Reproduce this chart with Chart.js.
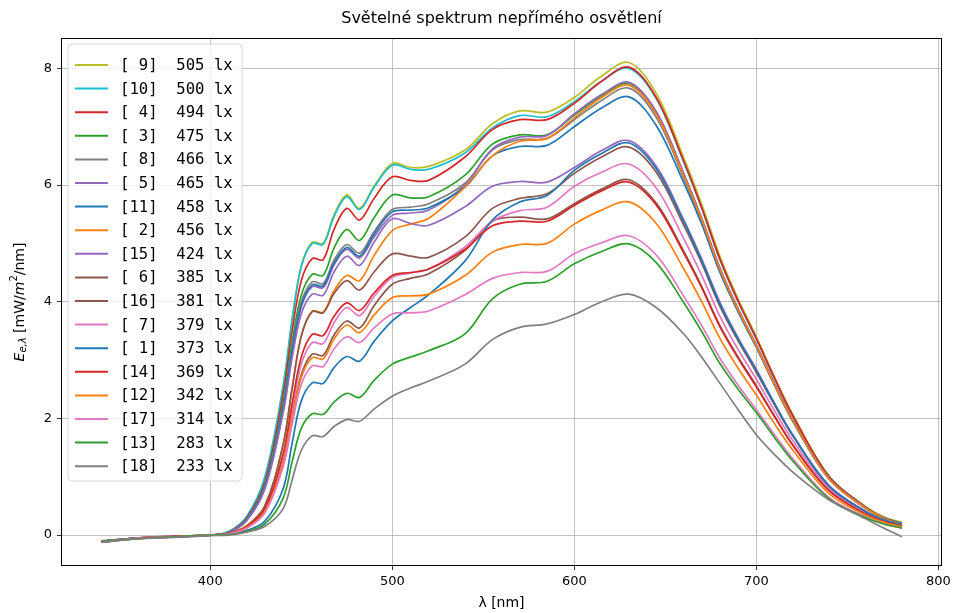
<!DOCTYPE html>
<html>
<head>
<meta charset="utf-8">
<style>
  html, body { margin: 0; padding: 0; background: #fff; }
</style>
</head>
<body>
<canvas id="spektrum" width="957" height="613"></canvas>
<script src="https://cdn.jsdelivr.net/npm/chart.js"></script>
<script>
    // vlnové délky [nm]
    var vlnoveDelky = [340, 360, 380, 400, 410, 420, 430, 440, 445, 450, 456, 462, 468, 475, 482, 490,
        500, 510, 520, 540, 555, 570, 585, 600, 615, 630, 645, 660, 670, 680, 690, 700, 710, 720, 740, 760, 770, 780];

    // popisky měření (pořadí legendy)
    var mereni = ['[ 9]  505 lx', '[10]  500 lx', '[ 4]  494 lx', '[ 3]  475 lx', '[ 8]  466 lx', '[ 5]  465 lx',
        '[11]  458 lx', '[ 2]  456 lx', '[15]  424 lx', '[ 6]  385 lx', '[16]  381 lx', '[ 7]  379 lx',
        '[ 1]  373 lx', '[14]  369 lx', '[12]  342 lx', '[17]  314 lx', '[13]  283 lx', '[18]  233 lx'];

    var barvy = ['#bcbd22', '#17becf', '#d62728', '#2ca02c', '#7f7f7f', '#9467bd', '#1f77b4', '#ff7f0e', '#9467bd',
        '#8c564b', '#8c564b', '#e377c2', '#1f77b4', '#d62728', '#ff7f0e', '#e377c2', '#2ca02c', '#7f7f7f'];

    // spektrální ozáření [mW/m2/nm]
    var s9 = [-0.11, -0.05, -0.03, 0.00, 0.05, 0.30, 0.96, 2.54, 3.70, 4.61, 5.02, 5.00, 5.49, 5.83, 5.60, 5.98,
        6.37, 6.30, 6.32, 6.60, 7.05, 7.27, 7.25, 7.50, 7.87, 8.10, 7.57, 6.48, 5.67, 4.78, 4.05, 3.40, 2.71, 2.07, 1.01, 0.49, 0.31, 0.22];
    var s10 = [-0.12, -0.06, -0.02, 0.00, 0.06, 0.32, 1.00, 2.55, 3.70, 4.60, 5.00, 4.98, 5.46, 5.80, 5.58, 5.96,
        6.34, 6.27, 6.27, 6.55, 6.98, 7.19, 7.17, 7.43, 7.78, 8.00, 7.48, 6.40, 5.60, 4.72, 4.00, 3.36, 2.68, 2.04, 1.00, 0.48, 0.30, 0.20];
    var s4 = [-0.10, -0.05, -0.03, 0.00, 0.05, 0.29, 0.91, 2.40, 3.50, 4.36, 4.74, 4.72, 5.24, 5.60, 5.40, 5.77,
        6.14, 6.08, 6.08, 6.48, 6.95, 7.12, 7.12, 7.40, 7.78, 8.02, 7.50, 6.42, 5.61, 4.73, 4.01, 3.37, 2.69, 2.05, 1.00, 0.48, 0.30, 0.19];
    var s3 = [-0.12, -0.06, -0.03, 0.00, 0.04, 0.27, 0.86, 2.26, 3.30, 4.11, 4.47, 4.45, 4.92, 5.24, 5.05, 5.44,
        5.83, 5.78, 5.80, 6.17, 6.70, 6.86, 6.86, 7.20, 7.53, 7.74, 7.24, 6.19, 5.42, 4.57, 3.87, 3.25, 2.59, 1.97, 0.97, 0.46, 0.29, 0.18];
    var s8 = [-0.11, -0.05, -0.03, 0.00, 0.04, 0.26, 0.83, 2.19, 3.20, 3.99, 4.34, 4.31, 4.71, 4.98, 4.83, 5.20,
        5.58, 5.62, 5.68, 6.03, 6.60, 6.78, 6.80, 7.12, 7.45, 7.66, 7.16, 6.13, 5.36, 4.52, 3.83, 3.22, 2.57, 1.95, 0.96, 0.46, 0.29, 0.17];
    var s5 = [-0.12, -0.06, -0.02, 0.00, 0.04, 0.26, 0.82, 2.15, 3.14, 3.91, 4.26, 4.24, 4.63, 4.90, 4.75, 5.11,
        5.48, 5.52, 5.57, 6.00, 6.62, 6.82, 6.85, 7.22, 7.55, 7.76, 7.26, 6.21, 5.43, 4.58, 3.88, 3.26, 2.60, 1.98, 0.97, 0.47, 0.29, 0.18];
    var s11 = [-0.10, -0.05, -0.03, 0.00, 0.04, 0.26, 0.82, 2.17, 3.16, 3.94, 4.29, 4.27, 4.66, 4.93, 4.78, 5.16,
        5.54, 5.57, 5.61, 5.97, 6.50, 6.66, 6.68, 7.00, 7.32, 7.51, 7.02, 6.05, 5.33, 4.50, 3.83, 3.22, 2.57, 1.96, 0.96, 0.46, 0.29, 0.20];
    var s2 = [-0.12, -0.05, -0.03, 0.00, 0.03, 0.16, 0.50, 1.55, 2.52, 3.41, 3.84, 3.82, 4.19, 4.45, 4.36, 4.79,
        5.22, 5.33, 5.43, 5.97, 6.50, 6.75, 6.80, 7.15, 7.50, 7.71, 7.21, 6.17, 5.40, 4.55, 3.86, 3.24, 2.58, 1.97, 0.96, 0.46, 0.29, 0.18];
    var s15 = [-0.11, -0.06, -0.03, 0.00, 0.04, 0.25, 0.79, 2.09, 3.04, 3.79, 4.13, 4.11, 4.51, 4.78, 4.62, 5.02,
        5.42, 5.34, 5.31, 5.63, 5.98, 6.06, 6.05, 6.30, 6.59, 6.76, 6.32, 5.41, 4.73, 3.99, 3.38, 2.84, 2.26, 1.72, 0.85, 0.41, 0.26, 0.17];
    var s6 = [-0.12, -0.05, -0.02, 0.00, 0.03, 0.15, 0.50, 1.55, 2.52, 3.41, 3.83, 3.81, 4.14, 4.36, 4.20, 4.51,
        4.82, 4.78, 4.76, 5.11, 5.60, 5.77, 5.85, 6.20, 6.48, 6.65, 6.22, 5.32, 4.66, 3.92, 3.33, 2.79, 2.23, 1.70, 0.83, 0.40, 0.25, 0.16];
    var s16 = [-0.11, -0.05, -0.03, 0.00, 0.02, 0.13, 0.41, 1.25, 2.03, 2.75, 3.10, 3.08, 3.43, 3.67, 3.55, 3.93,
        4.30, 4.40, 4.48, 4.88, 5.38, 5.45, 5.42, 5.68, 5.93, 6.09, 5.69, 4.87, 4.26, 3.59, 3.05, 2.56, 2.04, 1.55, 0.76, 0.37, 0.23, 0.15];
    var s7 = [-0.12, -0.06, -0.03, 0.00, 0.02, 0.13, 0.43, 1.33, 2.16, 2.93, 3.30, 3.28, 3.64, 3.90, 3.76, 4.09,
        4.42, 4.49, 4.56, 4.94, 5.38, 5.56, 5.62, 5.98, 6.22, 6.36, 5.95, 5.09, 4.45, 3.75, 3.18, 2.67, 2.13, 1.62, 0.80, 0.38, 0.24, 0.16];
    var s1 = [-0.11, -0.05, -0.03, 0.00, 0.02, 0.08, 0.24, 0.79, 1.58, 2.30, 2.61, 2.60, 2.87, 3.06, 2.98, 3.32,
        3.67, 3.90, 4.12, 4.70, 5.40, 5.71, 5.82, 6.25, 6.54, 6.72, 6.28, 5.38, 4.70, 3.96, 3.36, 2.82, 2.25, 1.71, 0.84, 0.40, 0.26, 0.17];
    var s14 = [-0.12, -0.05, -0.02, 0.00, 0.03, 0.14, 0.45, 1.39, 2.26, 3.05, 3.44, 3.42, 3.75, 3.98, 3.85, 4.15,
        4.45, 4.50, 4.56, 4.90, 5.30, 5.38, 5.38, 5.65, 5.90, 6.05, 5.66, 4.84, 4.24, 3.57, 3.03, 2.54, 2.03, 1.54, 0.76, 0.36, 0.23, 0.15];
    var s12 = [-0.11, -0.06, -0.03, 0.00, 0.02, 0.12, 0.40, 1.23, 2.00, 2.70, 3.04, 3.02, 3.36, 3.60, 3.47, 3.77,
        4.07, 4.10, 4.13, 4.45, 4.85, 4.98, 5.00, 5.33, 5.57, 5.71, 5.34, 4.57, 4.00, 3.37, 2.86, 2.40, 1.91, 1.46, 0.71, 0.34, 0.22, 0.14];
    var s17 = [-0.12, -0.05, -0.03, 0.00, 0.02, 0.12, 0.38, 1.17, 1.90, 2.58, 2.90, 2.89, 3.19, 3.40, 3.30, 3.55,
        3.79, 3.81, 3.84, 4.12, 4.40, 4.50, 4.52, 4.82, 5.01, 5.13, 4.80, 4.10, 3.59, 3.03, 2.57, 2.15, 1.72, 1.31, 0.64, 0.31, 0.19, 0.12];
    var s13 = [-0.11, -0.06, -0.03, 0.00, 0.01, 0.06, 0.19, 0.63, 1.26, 1.83, 2.08, 2.07, 2.28, 2.43, 2.36, 2.65,
        2.93, 3.05, 3.16, 3.45, 4.05, 4.30, 4.35, 4.65, 4.86, 4.99, 4.67, 3.99, 3.49, 2.94, 2.50, 2.10, 1.67, 1.27, 0.62, 0.30, 0.19, 0.12];
    var s18 = [-0.12, -0.06, -0.04, -0.01, 0.00, 0.05, 0.15, 0.45, 0.95, 1.45, 1.70, 1.69, 1.86, 1.98, 1.95, 2.16,
        2.38, 2.52, 2.64, 2.93, 3.35, 3.56, 3.62, 3.78, 4.00, 4.13, 3.90, 3.45, 3.05, 2.60, 2.15, 1.72, 1.38, 1.08, 0.60, 0.28, 0.12, -0.03];

    var rady = [s9, s10, s4, s3, s8, s5, s11, s2, s15, s6, s16, s7, s1, s14, s12, s17, s13, s18];

    // popisky os
    var xTicks = [400, 500, 600, 700, 800];
    var yTicks = [0, 2, 4, 6, 8];

    var datasets = rady.map(function(r, i) {
        return {
            label: mereni[i],
            data: vlnoveDelky.map(function(w, j) { return { x: w, y: r[j] }; }),
            borderColor: barvy[i],
            backgroundColor: barvy[i],
            borderWidth: 1.7,
            pointRadius: 0,
            tension: 0.35,
            fill: false,
            order: rady.length - i
        };
    });

    // rámeček, nadpis, popisek osy y a legenda
    var kresleni = {
        id: 'kresleni',
        afterDatasetsDraw: function(chart) {
            var ctx = chart.ctx;
            var a = chart.chartArea;
            ctx.save();
            ctx.strokeStyle = '#000';
            ctx.lineWidth = 1;
            ctx.strokeRect(Math.round(a.left) + 0.5, Math.round(a.top) + 0.5,
                Math.round(a.right - a.left) - 1, Math.round(a.bottom - a.top) - 1);

            // nadpis
            ctx.fillStyle = '#000';
            ctx.font = '16px "DejaVu Sans"';
            ctx.textAlign = 'center';
            ctx.textBaseline = 'middle';
            ctx.fillText('Světelné spektrum nepřímého osvětlení', (a.left + a.right) / 2, 19);

            // osa x
            ctx.font = '14px "DejaVu Sans"';
            ctx.fillText('λ [nm]', (a.left + a.right) / 2, 603);

            // osa y s indexy
            ctx.translate(20, (a.top + a.bottom) / 2);
            ctx.rotate(-Math.PI / 2);
            var casti = [
                ['italic 14px "DejaVu Sans"', 'E', 0],
                ['italic 10px "DejaVu Sans"', 'e,λ', 3],
                ['14px "DejaVu Sans"', ' [mW/', 0],
                ['italic 14px "DejaVu Sans"', 'm', 0],
                ['10px "DejaVu Sans"', '2', -6],
                ['14px "DejaVu Sans"', '/nm]', 0]
            ];
            var sirka = 0;
            casti.forEach(function(c) { ctx.font = c[0]; sirka += ctx.measureText(c[1]).width; });
            var x = -sirka / 2;
            ctx.textAlign = 'left';
            casti.forEach(function(c) {
                ctx.font = c[0];
                ctx.fillText(c[1], x, c[2]);
                x += ctx.measureText(c[1]).width;
            });
            ctx.restore();

            // legenda
            ctx.save();
            var lx = 68, ly = 44, lw = 174, lh = 437, r = 4;
            ctx.beginPath();
            ctx.moveTo(lx + r, ly);
            ctx.arcTo(lx + lw, ly, lx + lw, ly + lh, r);
            ctx.arcTo(lx + lw, ly + lh, lx, ly + lh, r);
            ctx.arcTo(lx, ly + lh, lx, ly, r);
            ctx.arcTo(lx, ly, lx + lw, ly, r);
            ctx.closePath();
            ctx.fillStyle = 'rgba(255,255,255,0.8)';
            ctx.fill();
            ctx.strokeStyle = '#d6d6d6';
            ctx.lineWidth = 1;
            ctx.stroke();
            ctx.font = '15.6px "DejaVu Sans Mono"';
            ctx.textAlign = 'left';
            ctx.textBaseline = 'middle';
            chart.data.datasets.forEach(function(ds, i) {
                var y = 65 + i * 23.6;
                ctx.strokeStyle = ds.borderColor;
                ctx.lineWidth = 2;
                ctx.beginPath();
                ctx.moveTo(75, y);
                ctx.lineTo(108, y);
                ctx.stroke();
                ctx.fillStyle = '#000';
                ctx.fillText(ds.label, 120, y + 1);
            });
            ctx.restore();
        }
    };

    var ctx = document.getElementById('spektrum').getContext('2d');
    var graf = new Chart(ctx, {
        type: 'line',
        data: { datasets: datasets },
        options: {
            responsive: false,
            animation: false,
            devicePixelRatio: 1,
            layout: { padding: { top: 38, right: 15, left: 0, bottom: 0 } },
            plugins: {
                legend: { display: false },
                tooltip: { enabled: false },
                title: { display: false }
            },
            scales: {
                x: {
                    type: 'linear',
                    min: 318,
                    max: 802,
                    afterBuildTicks: function(s) { s.ticks = xTicks.map(function(v) { return { value: v }; }); },
                    afterFit: function(s) { s.height = 47; },
                    ticks: { color: '#000', font: { family: 'DejaVu Sans', size: 13 }, padding: 4, maxRotation: 0 },
                    grid: { color: '#b0b0b0', lineWidth: 0.8, tickColor: '#000', tickLength: 4 },
                    border: { display: false }
                },
                y: {
                    min: -0.53,
                    max: 8.52,
                    afterBuildTicks: function(s) { s.ticks = yTicks.map(function(v) { return { value: v }; }); },
                    afterFit: function(s) { s.width = 61; },
                    ticks: { color: '#000', font: { family: 'DejaVu Sans', size: 13 }, padding: 5 },
                    grid: { color: '#b0b0b0', lineWidth: 0.8, tickColor: '#000', tickLength: 4 },
                    border: { display: false }
                }
            }
        },
        plugins: [kresleni]
    });
</script>
</body>
</html>
